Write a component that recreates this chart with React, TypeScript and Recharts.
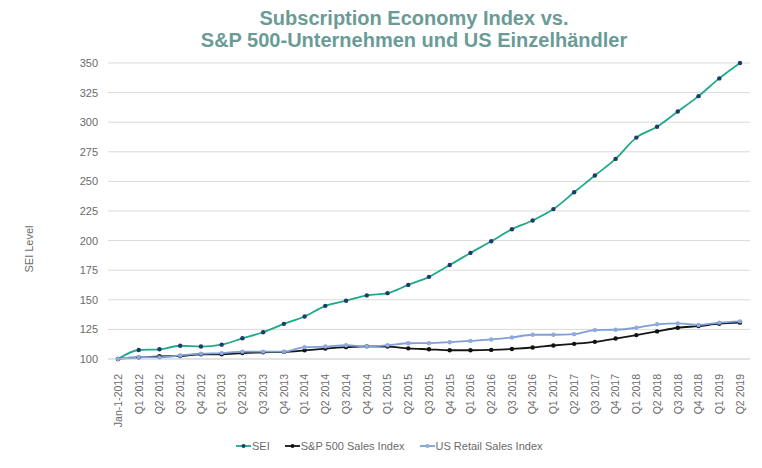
import React from "react";
import { LineChart, Line, XAxis, YAxis, CartesianGrid } from "recharts";

const categories = [
  "Jan-1-2012",
  "Q1 2012", "Q2 2012", "Q3 2012", "Q4 2012",
  "Q1 2013", "Q2 2013", "Q3 2013", "Q4 2013",
  "Q1 2014", "Q2 2014", "Q3 2014", "Q4 2014",
  "Q1 2015", "Q2 2015", "Q3 2015", "Q4 2015",
  "Q1 2016", "Q2 2016", "Q3 2016", "Q4 2016",
  "Q1 2017", "Q2 2017", "Q3 2017", "Q4 2017",
  "Q1 2018", "Q2 2018", "Q3 2018", "Q4 2018",
  "Q1 2019", "Q2 2019",
];

const seiValues = [
  100, 107.6, 108.2, 111.2, 110.5, 112.1, 117.5, 122.6, 129.7, 135.9, 144.9,
  149.2, 153.7, 155.6, 162.6, 169.4, 179.4, 189.6, 199.4, 209.6, 217, 226.6,
  240.8, 255, 269, 287, 296.2, 309, 322, 337, 350,
];

const sp500Values = [
  100, 101.4, 102.3, 102.5, 104, 104, 105, 105.6, 106, 107.3, 108.8, 110,
  110.7, 110.5, 109, 108.2, 107.4, 107.4, 107.7, 108.5, 109.7, 111.4, 112.8,
  114.5, 117.3, 120.2, 123.3, 126.4, 127.8, 129.8, 130.7,
];

const retailValues = [
  100, 101.7, 101.4, 103, 104.5, 105, 106.2, 106.2, 106.2, 110, 110.5, 111.6,
  110.7, 111.6, 113.3, 113.4, 114.2, 115.3, 116.5, 118.2, 120.5, 120.5, 121,
  124.4, 124.7, 126.4, 129.3, 130.1, 128.7, 130.7, 131.8,
];

const yTicks = [100, 125, 150, 175, 200, 225, 250, 275, 300, 325, 350];

const series = [
  { key: "sei", name: "SEI", line: "#1fa98b", dot: "#1d3a6b" },
  { key: "sp500", name: "S&P 500 Sales Index", line: "#151515", dot: "#111111" },
  { key: "retail", name: "US Retail Sales Index", line: "#7f9fd6", dot: "#8eaadf" },
];

const data = categories.map((q, i) => ({
  quarter: q,
  sei: seiValues[i],
  sp500: sp500Values[i],
  retail: retailValues[i],
}));

const FONT = '"Liberation Sans", Arial, Helvetica, sans-serif';
const LABEL = "#6b6b6b";

function QuarterTick(props: any) {
  const { x, y, payload } = props;
  return (
    <g transform={`translate(${x},${y})`}>
      <text
        transform="rotate(-90)"
        x={-7}
        y={0}
        dy="0.36em"
        textAnchor="end"
        fontSize={10.5}
        fontFamily={FONT}
        fill={LABEL}
      >
        {payload.value}
      </text>
    </g>
  );
}

export default function App() {
  return (
    <div
      style={{
        position: "absolute",
        left: 0,
        top: 0,
        width: 762,
        height: 468,
        background: "#fff",
        fontFamily: FONT,
      }}
    >
      <div
        style={{
          position: "absolute",
          left: 0,
          top: 7,
          width: 828,
          textAlign: "center",
          color: "#6a9b97",
          fontWeight: "bold",
          fontSize: 20,
          lineHeight: "22px",
        }}
      >
        Subscription Economy Index vs.
        <br />
        S&amp;P 500-Unternehmen und US Einzelhändler
      </div>

      <div
        style={{
          position: "absolute",
          left: 29,
          top: 249,
          transform: "translate(-50%, -50%) rotate(-90deg)",
          whiteSpace: "nowrap",
          fontSize: 11,
          color: LABEL,
        }}
      >
        SEI Level
      </div>

      <LineChart
        width={762}
        height={468}
        data={data}
        margin={{ top: 63, right: 12, bottom: 0, left: 0 }}
      >
        <CartesianGrid vertical={false} stroke="#d9d9d9" strokeWidth={1} />
        <XAxis
          dataKey="quarter"
          interval={0}
          height={109}
          padding={{ left: 10, right: 10 }}
          axisLine={{ stroke: "#d9d9d9" }}
          tickLine={false}
          tick={<QuarterTick />}
        />
        <YAxis
          width={108}
          domain={[100, 350]}
          ticks={yTicks}
          axisLine={false}
          tickLine={false}
          tickMargin={4}
          tick={{ fontSize: 11, fill: LABEL, fontFamily: FONT }}
        />
        {series.map((s) => (
          <Line
            key={s.key}
            type="monotone"
            dataKey={s.key}
            name={s.name}
            stroke={s.line}
            strokeWidth={1.8}
            dot={{ r: 2.2, fill: s.dot, stroke: s.dot, strokeWidth: 0 }}
            activeDot={false}
            isAnimationActive={false}
          />
        ))}
      </LineChart>

      <div
        style={{
          position: "absolute",
          left: 236,
          top: 440,
          display: "flex",
          alignItems: "center",
          fontSize: 11,
          color: LABEL,
          whiteSpace: "nowrap",
        }}
      >
        {series.map((s) => (
          <div
            key={s.key}
            style={{ display: "flex", alignItems: "center", marginRight: 15 }}
          >
            <svg width={15} height={8} style={{ marginRight: 1 }}>
              <line x1={0} y1={4} x2={15} y2={4} stroke={s.line} strokeWidth={1.8} />
              <circle cx={7.5} cy={4} r={2} fill={s.dot} />
            </svg>
            <span>{s.name}</span>
          </div>
        ))}
      </div>
    </div>
  );
}
